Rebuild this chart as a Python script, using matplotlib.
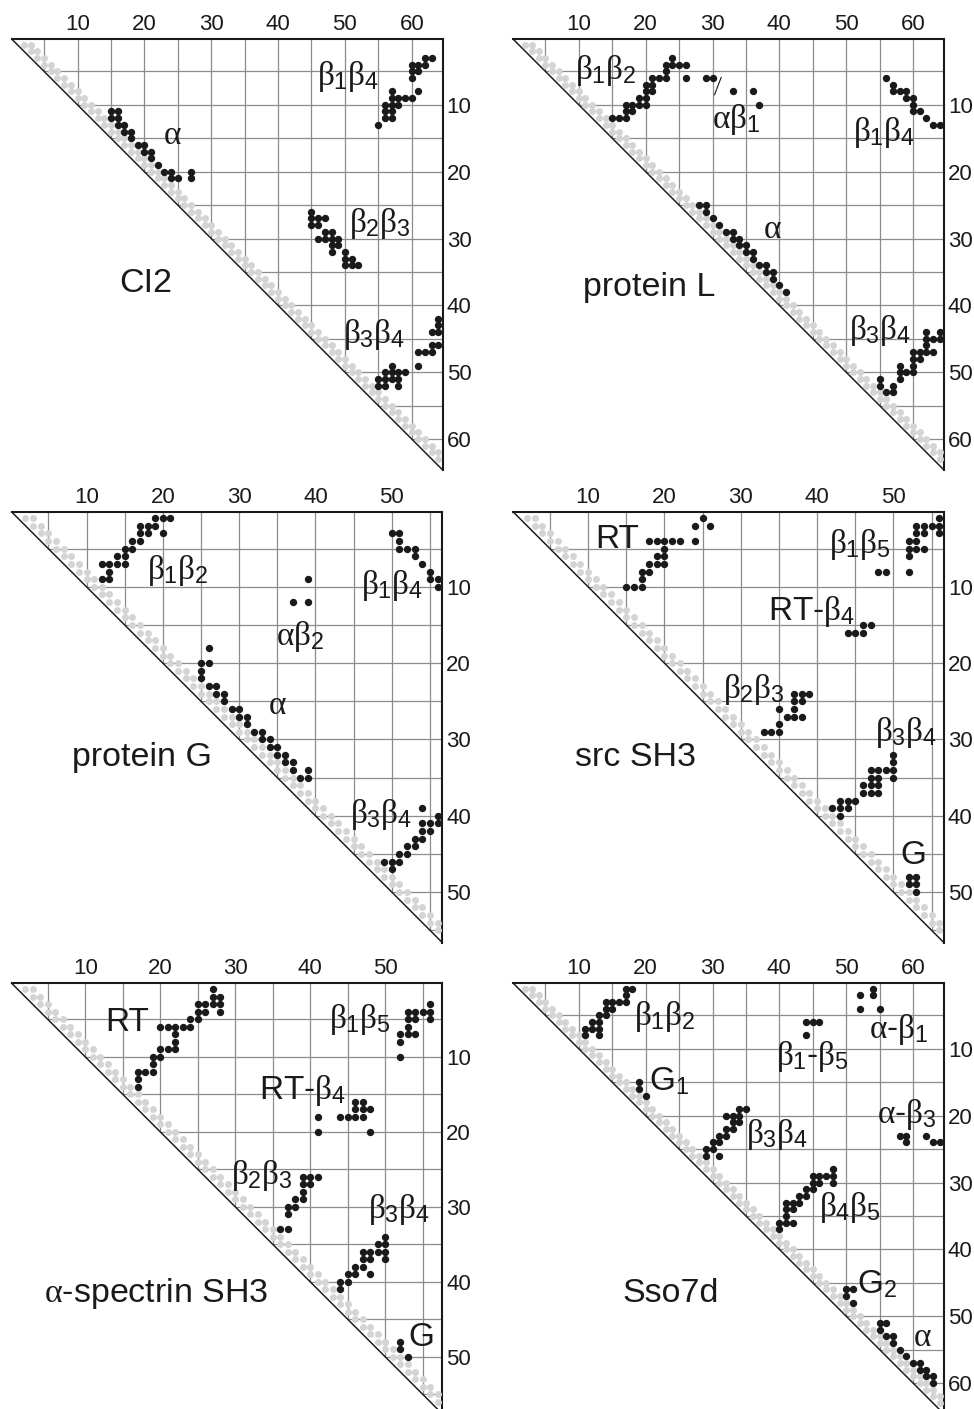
import matplotlib
matplotlib.use("Agg")
import matplotlib.pyplot as plt
import numpy as np

plt.rcParams['font.family'] = ['Liberation Sans', 'DejaVu Sans']
plt.rcParams['mathtext.fontset'] = 'custom'
plt.rcParams['mathtext.rm'] = 'Liberation Sans'
plt.rcParams['mathtext.it'] = 'Liberation Serif'

# contacts as (residue i, [residues j]) rows, j > i
ci2_n = 64
ci2_contacts = [
    (3, [62, 63]), (4, [60, 61, 62]), (5, [60, 61]), (6, [60]), (8, [57, 61]),
    (9, [57, 58, 59, 60]), (10, [56, 57, 58]), (11, [56, 57]), (12, [56, 57]), (13, [55]),
    (11, [15, 16]), (12, [15, 16]), (13, [16, 17]), (14, [17, 18]), (15, [18]),
    (16, [19, 20]), (17, [20, 21]), (18, [21]), (19, [22]), (20, [23, 24, 27]), (21, [24, 25, 27]),
    (26, [45]), (27, [45, 46, 47]), (28, [45, 46]), (29, [47, 48]), (30, [46, 47, 48, 49]),
    (31, [48, 49]), (32, [48, 50]), (33, [50, 51]), (34, [50, 51, 52]),
    (42, [64]), (43, [64]), (44, [63, 64]), (46, [63, 64]), (47, [61, 62, 63]),
    (49, [57, 61]), (50, [56, 57, 58, 59]), (51, [55, 56, 57, 58]), (52, [55, 56, 58]),
]

protl_n = 64
protl_contacts = [
    (3, [24]), (4, [23, 24, 25, 26]), (5, [23]), (6, [21, 22, 23, 26, 29, 30]), (7, [20, 21]),
    (8, [20, 21, 33, 36]), (9, [19, 20]), (10, [17, 18, 19, 20, 37]), (11, [17, 18]), (12, [15, 16, 17]),
    (6, [56]), (7, [57]), (8, [57, 58, 59]), (9, [59, 60]), (10, [60]), (11, [60, 61]), (12, [62]), (13, [63, 64]),
    (25, [28, 29]), (26, [29]), (27, [30]), (28, [31]), (29, [32, 33]), (30, [33, 34]), (31, [34, 35]),
    (32, [35, 36]), (33, [36]), (34, [37, 38]), (35, [38, 39]), (36, [39]), (37, [40]), (38, [41]),
    (44, [62, 64]), (45, [62, 63, 64]), (46, [62]), (47, [60, 61, 62, 63]), (48, [60, 61]),
    (49, [58, 60]), (50, [58, 59, 60]), (51, [55, 58]), (52, [55, 57]), (53, [56, 57]),
]

protg_n = 56
protg_contacts = [
    (1, [19, 20, 21]), (2, [17, 18, 19]), (3, [17, 18, 20]), (4, [16, 17]), (5, [15, 16]),
    (6, [14, 15]), (7, [12, 13, 14, 15]), (8, [13]), (9, [12, 13]),
    (3, [50, 51]), (4, [51]), (5, [51, 52, 53]), (6, [53]), (7, [54]), (8, [55]), (9, [55, 56]), (10, [56]),
    (9, [39]), (12, [37, 39]),
    (18, [26]), (20, [25, 26]), (21, [25]), (22, [25]), (23, [26, 27]), (24, [27, 28]), (25, [28]),
    (26, [29, 30]), (27, [30, 31]), (28, [31]), (29, [32, 33]), (30, [33, 34]), (31, [34, 35]),
    (32, [35, 36]), (33, [36, 37]), (34, [37, 39]), (35, [38, 39]),
    (39, [54]), (40, [56]), (41, [54, 55, 56]), (42, [54, 55]), (43, [53, 54]), (44, [52, 53]),
    (45, [51, 52]), (46, [49, 50, 51]), (47, [50]),
]

src_n = 56
src_contacts = [
    (1, [25]), (2, [24, 26]), (4, [18, 19, 20, 21, 22, 24]), (5, [20]), (6, [19, 20]),
    (7, [18, 19, 20]), (8, [17, 18]), (9, [17]), (10, [15, 16, 17]),
    (1, [56]), (2, [53, 54, 55, 56]), (3, [53, 54, 56]), (4, [52, 53]), (5, [52, 53, 54]), (6, [52]),
    (8, [48, 49, 52]),
    (15, [46, 47]), (16, [44, 45, 46]),
    (24, [37, 38, 39]), (25, [37, 38]), (26, [35, 37]), (27, [36, 37, 38]), (28, [35]), (29, [33, 34, 35]),
    (32, [50]), (33, [50]), (34, [47, 48, 49, 50]), (35, [47, 48, 50]), (36, [46, 47, 48]),
    (37, [46, 47, 48]), (38, [43, 44, 45]), (39, [42, 43, 44]), (40, [43]),
    (48, [52, 53]), (49, [52, 53]), (50, [53]),
]

spec_n = 57
spec_contacts = [
    (1, [27]), (2, [27, 28]), (3, [25, 26, 27, 28]), (4, [25, 26, 28]), (5, [24, 25]),
    (6, [20, 21, 22, 23, 24]), (7, [22]), (8, [22]), (9, [20, 21, 22]), (10, [19, 20]), (11, [19]),
    (12, [17, 18, 19]), (13, [17]), (14, [17]),
    (3, [56]), (4, [53, 54, 55, 56]), (5, [53, 54, 56]), (6, [53]), (7, [52, 53, 54]), (8, [52]), (10, [52]),
    (16, [46, 47]), (17, [46, 47, 48]), (18, [41, 44, 45, 46, 47]), (20, [41, 48]),
    (26, [39, 40, 41]), (27, [39, 40]), (28, [39]), (29, [38, 39]), (30, [37, 38]), (31, [37]), (33, [36, 37]),
    (34, [50]), (35, [49, 50]), (36, [47, 48, 49, 50]), (37, [47, 48, 50]), (38, [46, 47]),
    (39, [45, 46, 48]), (40, [44, 45]), (41, [44]),
    (48, [52]), (49, [52]), (50, [53]),
]

sso_n = 64
sso_contacts = [
    (1, [17, 18]), (2, [17]), (3, [14, 15, 16, 17]), (4, [14, 15]), (5, [13, 14]), (6, [12, 13]),
    (7, [11, 12, 13]), (8, [11, 13]),
    (15, [19]), (16, [19]), (17, [20]),
    (6, [44, 45, 46]), (8, [44]),
    (1, [54]), (2, [52, 54]), (4, [52, 55]),
    (19, [34, 35]), (20, [32, 33, 34]), (21, [33, 34]), (22, [32, 33]), (23, [31, 32]), (24, [30, 31]),
    (25, [29, 30]), (26, [29, 31]),
    (23, [58, 59, 62]), (24, [59, 63, 64]),
    (28, [48]), (29, [45, 46, 47, 48]), (30, [45, 46, 48]), (31, [44, 45]), (32, [43, 44]),
    (33, [41, 42, 43]), (34, [41, 42]), (35, [41]), (36, [40, 41, 42]), (37, [40]),
    (46, [50, 51]), (47, [50]), (48, [51]),
    (51, [55, 56]), (52, [55]), (53, [56, 57]), (54, [57]), (55, [58]), (56, [59]),
    (57, [60, 61]), (58, [61, 62]), (59, [62, 63]), (60, [63]),
]

# annotations: (text, column, row)
ci2_labels = [(r'$\beta_1\beta_4$', 50.4, 5.7), (r'$\alpha$', 24.2, 14.6),
              (r'$\beta_2\beta_3$', 55.2, 27.7), (r'$\beta_3\beta_4$', 54.4, 44.4)]
protl_labels = [(r'$\beta_1\beta_2$', 14.1, 4.8), (r'$\alpha\beta_1$', 33.6, 12.2),
                (r'$\beta_1\beta_4$', 55.6, 14.2), (r'$\alpha$', 39.0, 28.6),
                (r'$\beta_3\beta_4$', 55.1, 43.7)]
protg_labels = [(r'$\beta_1\beta_2$', 21.9, 7.8), (r'$\beta_1\beta_4$', 50.0, 9.8),
                (r'$\alpha\beta_2$', 38.0, 16.5), (r'$\alpha$', 35.0, 25.6),
                (r'$\beta_3\beta_4$', 48.6, 39.8)]
src_labels = [('RT', 13.8, 3.8), (r'$\beta_1\beta_5$', 45.6, 4.5), (r'RT-$\beta_4$', 39.2, 13.2),
              (r'$\beta_2\beta_3$', 31.7, 23.5), (r'$\beta_3\beta_4$', 51.6, 29.1), ('G', 52.6, 45.2)]
spec_labels = [('RT', 15.6, 5.4), (r'$\beta_1\beta_5$', 46.6, 5.0), (r'RT-$\beta_4$', 39.0, 14.5),
               (r'$\beta_2\beta_3$', 33.5, 25.8), (r'$\beta_3\beta_4$', 51.8, 30.4), ('G', 54.8, 47.4)]
sso_labels = [(r'$\beta_1\beta_2$', 22.9, 5.1), (r'$\beta_1$-$\beta_5$', 44.9, 11.1),
              (r'$\alpha$-$\beta_1$', 57.8, 7.1), (r'G$_1$', 23.5, 14.9),
              (r'$\alpha$-$\beta_3$', 59.1, 19.8), (r'$\beta_3\beta_4$', 39.6, 22.8),
              (r'$\beta_4\beta_5$', 50.6, 33.8), (r'G$_2$', 54.6, 45.2), (r'$\alpha$', 61.4, 53.2)]

names = ['CI2', 'protein L', 'protein G', 'src SH3', r'$\alpha$-spectrin SH3', 'Sso7d']
name_pos = [(20.2, 36.7), (20.5, 37.3), (17.2, 32.4), (16.2, 32.4), (19.5, 41.5), (23.8, 46.6)]

W, H = 974, 1409
fig = plt.figure(figsize=(W / 100, H / 100), dpi=100)

boxes = [(12, 39.3), (513.3, 39.3), (11.7, 512), (513.3, 512), (11.7, 983.3), (513.3, 983.3)]
size = 430.5
panels = [(ci2_n, ci2_contacts, ci2_labels), (protl_n, protl_contacts, protl_labels),
          (protg_n, protg_contacts, protg_labels), (src_n, src_contacts, src_labels),
          (spec_n, spec_contacts, spec_labels), (sso_n, sso_contacts, sso_labels)]

for k, (n, contacts, labels) in enumerate(panels):
    x0, y0 = boxes[k]
    ax = fig.add_axes([x0 / W, 1 - (y0 + size) / H, size / W, size / H])
    lo, hi = 0.2, n + 0.6
    ax.set_xlim(lo, hi)
    ax.set_ylim(hi, lo)

    g = np.arange(5, n + 1, 5)
    ax.vlines(g, lo, g, color='#8c8c8c', lw=0.9, zorder=1)
    ax.hlines(g, g, hi, color='#8c8c8c', lw=0.9, zorder=1)
    ax.plot([lo, hi], [lo, hi], color='#1e1e1e', lw=1.1, zorder=2, clip_on=False)

    # near-diagonal (trivial) contacts in grey
    ii = np.arange(1, n)
    gi = np.concatenate([ii, ii[:-1]])
    gj = np.concatenate([ii + 1, ii[:-1] + 2])
    ax.plot(gj, gi, 'o', ms=5.0, color='#d4d4d4', mec='none', zorder=3, clip_on=False)

    ci = [i for i, js in contacts for j in js]
    cj = [j for i, js in contacts for j in js]
    ax.plot(cj, ci, 'o', ms=5.3, color='#1a1a1a', mec='none', zorder=4, clip_on=False)

    for txt, tx, ty in labels:
        ax.text(tx, ty, txt, fontsize=24, ha='center', va='center', color='#1a1a1a', zorder=5)
    ax.text(name_pos[k][0], name_pos[k][1], names[k], fontsize=24.5, ha='center', va='center',
            color='#1a1a1a')

    if k == 1:
        ax.plot([30.3, 31.3], [8.5, 5.9], color='#1a1a1a', lw=0.8)

    ticks = np.arange(10, n + 1, 10)
    ax.xaxis.tick_top()
    ax.yaxis.tick_right()
    ax.set_xticks(ticks)
    ax.set_yticks(ticks)
    ax.tick_params(length=0, labelsize=16, pad=3, colors='#1a1a1a')
    for s in ['left', 'bottom']:
        ax.spines[s].set_visible(False)
    for s in ['top', 'right']:
        ax.spines[s].set_linewidth(1.5)
        ax.spines[s].set_color('#1a1a1a')
    ax.patch.set_visible(False)

fig.savefig('out.png', dpi=100)
